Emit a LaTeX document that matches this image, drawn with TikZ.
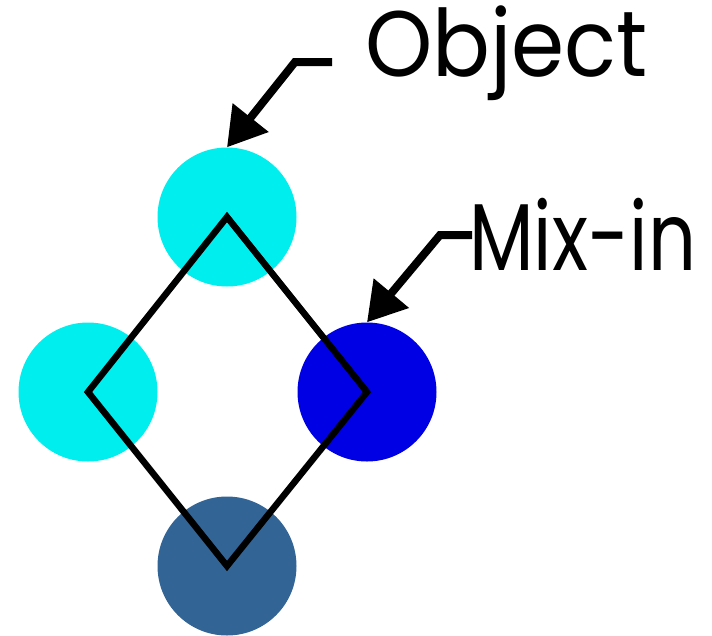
\documentclass[tikz,border=0pt]{standalone}
\usepackage{fontspec}
\setmainfont{Poppins}
\usetikzlibrary{arrows.meta}
\definecolor{lcyan}{RGB}{0,238,238}
\definecolor{mblue}{RGB}{0,0,228}
\definecolor{sblue}{RGB}{50,100,150}
\tikzset{
  ball/.style={circle, minimum size=139pt, inner sep=0pt, draw=none},
  lbl/.style={anchor=base west, inner sep=0pt},
  ptr/.style={line width=8pt, -{Triangle[length=38pt,width=44pt]}, line join=miter},
  dia/.style={line width=6.5pt, line join=miter}
}
\begin{document}
\begin{tikzpicture}[x=1pt,y=-1pt]
\useasboundingbox (0,0) rectangle (712,635);
\node[ball, fill=lcyan] (top) at (227,217) {};
\node[ball, fill=lcyan] (left) at (88,392) {};
\node[ball, fill=mblue] (right) at (367,392) {};
\node[ball, fill=sblue] (bottom) at (227,566) {};
\draw[dia] (top.center) -- (right.center) -- (bottom.center) -- (left.center) -- cycle;
\node[lbl, font=\fontsize{93}{93}\selectfont] (obj) at (365,76) {\scalebox{0.92}[1]{Object}};
\node[lbl, font=\fontsize{95}{95}\selectfont] (mix) at (469,270) {\scalebox{0.79}[1]{Mix-in}};
\coordinate (objbar) at (332,62);
\coordinate (objknee) at (295,62);
\coordinate (mixbar) at (472,235);
\coordinate (mixknee) at (440,235);
\draw[ptr] (objbar) -- (objknee) -- (top.north);
\draw[ptr] (mixbar) -- (mixknee) -- (right.north);
\end{tikzpicture}
\end{document}
